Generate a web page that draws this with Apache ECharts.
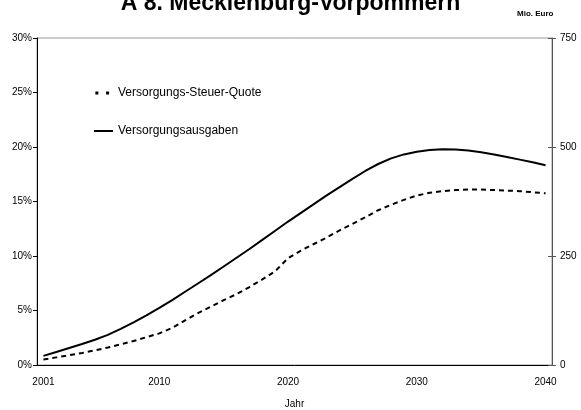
<!DOCTYPE html>
<html>
<head>
<meta charset="utf-8">
<script src="https://cdn.jsdelivr.net/npm/echarts@6/dist/echarts.min.js"></script>
<style>
html,body{margin:0;padding:0;background:#fff;}
#chart{width:581px;height:410px;}
</style>
</head>
<body>
<div id="chart"></div>
<script>
const years = [];
for (let y = 2001; y <= 2040; y++) years.push(String(y));

// Versorgungs-Steuer-Quote (%), left axis
const quote = [0.5,0.7,0.9,1.1,1.35,1.6,1.9,2.2,2.55,2.9,
  3.4,4.1,4.75,5.35,5.95,6.5,7.15,7.85,8.6,9.8,
  10.5,11.1,11.7,12.35,12.95,13.55,14.2,14.7,15.15,15.55,
  15.8,15.95,16.05,16.1,16.1,16.05,16.0,15.95,15.85,15.75];

// Versorgungsausgaben (Mio. Euro), right axis
const ausgaben = [21,30,39,48,58,69,83,98,114,131,
  149,168,187,206,226,246,266,287,308,329,
  349,369,389,408,427,445,461,474,483,489,
  493,495,494,492,488,483,477,471,465,458];

const leftTicks = [0,5,10,15,20,25,30];
const rightTicks = [0,250,500,750];

const chart = echarts.init(document.getElementById('chart'));
const font = 'Liberation Sans, Arial, sans-serif';
chart.setOption({
  animation: false,
  backgroundColor: '#fff',
  textStyle: {fontFamily: font},
  title: {
    text: 'A 8. Mecklenburg-Vorpommern',
    left: 'center',
    top: -13,
    textStyle: {fontSize: 23, fontWeight: 'bold', color: '#000', fontFamily: font}
  },
  graphic: [{
    type: 'text', left: 517, top: 10,
    style: {text: 'Mio. Euro', font: 'bold 8px ' + font, fill: '#000'}
  }],
  grid: {left: 37, right: 29, top: 38, bottom: 45, show: true, borderColor: '#999', borderWidth: 1,
    containLabel: false, outerBoundsMode: 'none'},
  legend: {
    orient: 'vertical', left: 94, top: 87, itemGap: 26, itemWidth: 19, itemHeight: 3, padding: 0,
    textStyle: {fontSize: 12, color: '#000', fontFamily: font},
    data: [
      {name: 'Versorgungs-Steuer-Quote', icon: 'path://M0,0H3.5V3.5H0Z M12.5,0H16V3.5H12.5Z M18.9,1.4H19V1.5H18.9Z'},
      {name: 'Versorgungsausgaben', icon: 'path://M0,0.5H19V2.5H0Z M0,0H0.01V3H0Z'}
    ]
  },
  xAxis: {
    type: 'category', data: years, boundaryGap: true,
    name: 'Jahr', nameLocation: 'middle', nameGap: 34,
    nameTextStyle: {fontSize: 10, color: '#000'},
    axisLine: {lineStyle: {color: '#000', width: 1}},
    axisTick: {length: 4, lineStyle: {color: '#000'}, interval: function (i) { return i % 10 === 0; }},
    axisLabel: {fontSize: 10, color: '#000', margin: 12,
      interval: function (i, v) { return i === 0 || (+v) % 10 === 0; }},
    splitLine: {show: false}
  },
  yAxis: [{
    type: 'value', min: 0, max: 30, interval: 5, position: 'left',
    axisLine: {show: true, lineStyle: {color: '#000'}},
    axisTick: {show: true, length: 4, lineStyle: {color: '#000'}},
    axisLabel: {fontSize: 10, color: '#000', margin: 5, formatter: function (v) { return v + '%'; }},
    splitLine: {show: false}
  }, {
    type: 'value', min: 0, max: 750, interval: 250, position: 'right',
    axisLine: {show: true, lineStyle: {color: '#555'}},
    axisTick: {show: true, length: 4, lineStyle: {color: '#555'}},
    axisLabel: {fontSize: 10, color: '#000', margin: 8},
    splitLine: {show: false}
  }, {
    type: 'value', min: 0, max: 750, interval: 250, position: 'right',
    axisLine: {show: false},
    axisTick: {show: true, inside: true, length: 4, lineStyle: {color: '#555'}},
    axisLabel: {show: false},
    splitLine: {show: false}
  }],
  series: [{
    name: 'Versorgungs-Steuer-Quote', type: 'line', yAxisIndex: 0, data: quote,
    symbol: 'none', lineStyle: {color: '#000', width: 2, type: [5, 4]}, itemStyle: {color: '#000'}
  }, {
    name: 'Versorgungsausgaben', type: 'line', yAxisIndex: 1, data: ausgaben,
    symbol: 'none', lineStyle: {color: '#000', width: 2}, itemStyle: {color: '#000'}
  }]
});
</script>
</body>
</html>
